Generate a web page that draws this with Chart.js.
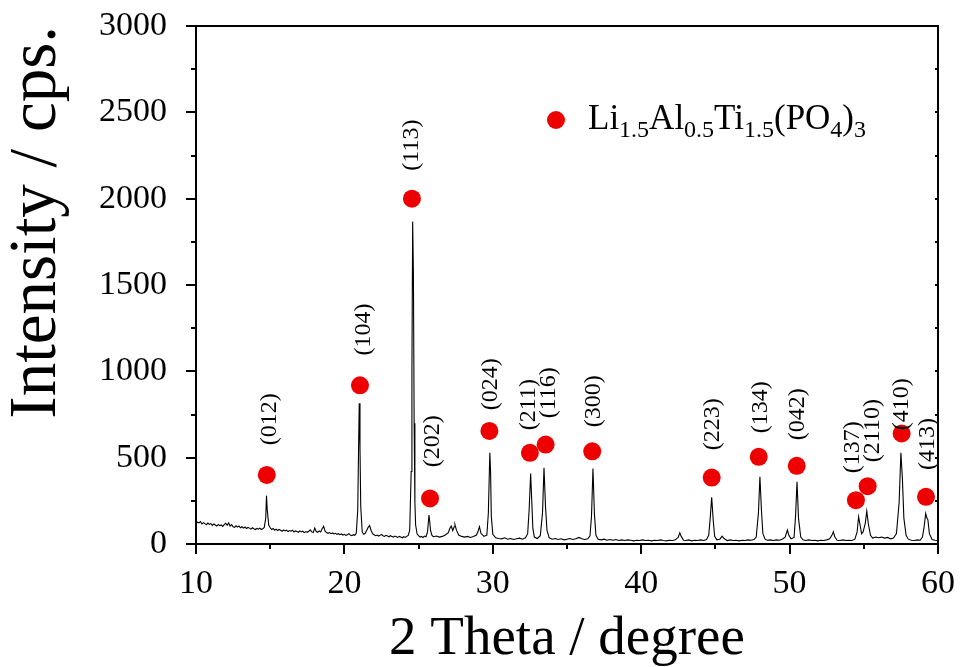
<!DOCTYPE html>
<html>
<head>
<meta charset="utf-8">
<script src="https://cdn.jsdelivr.net/npm/chart.js@4.4.0/dist/chart.umd.min.js"></script>
<style>
    body { margin: 0; background: #fff; }
    #wrap { width: 961px; height: 667px; position: relative; }
</style>
</head>
<body>
<div id="wrap"><canvas id="xrdChart"></canvas></div>
<script>
// measured pattern: [2 theta, intensity]
const pattern = [
    [10.0,118],[10.1,126],[10.2,122],[10.3,130],[10.4,116],[10.5,124],[10.6,118],[10.7,112],[10.8,121],[10.9,114],
    [11.0,118],[11.1,108],[11.2,116],[11.3,110],[11.4,104],[11.5,113],[11.6,106],[11.7,110],[11.8,102],[11.9,112],
    [12.0,120],[12.1,108],[12.2,122],[12.3,104],[12.4,112],[12.5,100],[12.6,96],[12.7,105],[12.8,98],[12.9,104],
    [13.0,94],[13.1,100],[13.2,92],[13.3,98],[13.4,90],[13.5,96],[13.6,92],[13.7,86],[13.8,94],[13.9,88],
    [14.0,84],[14.1,90],[14.2,86],[14.3,92],[14.4,84],[14.5,88],[14.6,96],[14.7,150],[14.75,280],[14.8,200],
    [14.9,110],[15.0,94],[15.1,84],[15.2,90],[15.3,80],[15.4,86],[15.5,78],[15.6,84],[15.7,80],[15.8,74],
    [15.9,82],[16.0,76],[16.1,80],[16.2,72],[16.3,78],[16.4,74],[16.5,80],[16.6,70],[16.7,76],[16.8,72],
    [16.9,68],[17.0,76],[17.1,70],[17.2,74],[17.3,66],[17.4,72],[17.5,68],[17.6,74],[17.7,82],[17.8,70],
    [17.9,66],[18.0,92],[18.1,72],[18.2,68],[18.3,76],[18.4,70],[18.5,88],[18.6,102],[18.7,74],[18.8,66],
    [18.9,62],[19.0,66],[19.1,60],[19.2,64],[19.3,58],[19.4,62],[19.5,56],[19.6,60],[19.7,54],[19.8,58],
    [19.9,52],[20.0,56],[20.1,50],[20.2,54],[20.3,60],[20.4,52],[20.5,48],[20.6,54],[20.7,50],[20.8,62],
    [20.9,200],[20.95,520],[21.0,815],[21.05,560],[21.1,220],[21.2,70],[21.3,56],[21.4,62],[21.5,78],[21.6,96],
    [21.7,106],[21.8,78],[21.9,60],[22.0,54],[22.1,48],[22.2,52],[22.3,46],[22.4,50],[22.5,56],[22.6,48],
    [22.7,44],[22.8,50],[22.9,46],[23.0,42],[23.1,48],[23.2,44],[23.3,40],[23.4,46],[23.5,42],[23.6,38],
    [23.7,44],[23.8,40],[23.9,36],[24.0,42],[24.1,38],[24.2,44],[24.3,50],[24.4,80],[24.5,420],[24.55,1000],
    [24.6,1867],[24.65,1570],[24.7,700],[24.75,240],[24.8,110],[24.9,58],[25.0,48],[25.1,40],[25.2,44],[25.3,38],
    [25.4,46],[25.5,42],[25.6,70],[25.7,168],[25.75,130],[25.8,80],[25.9,50],[26.0,42],[26.2,46],[26.4,40],
    [26.6,44],[26.8,52],[27.0,66],[27.1,90],[27.2,104],[27.3,78],[27.4,100],[27.45,112],[27.55,80],[27.7,52],
    [27.9,44],[28.1,40],[28.3,44],[28.5,38],[28.7,44],[28.9,52],[29.0,72],[29.1,100],[29.2,62],[29.4,44],
    [29.6,52],[29.7,180],[29.8,528],[29.85,420],[29.9,160],[30.0,56],[30.2,36],[30.4,32],[30.6,30],[30.8,36],
    [31.0,28],[31.2,32],[31.4,26],[31.6,30],[31.8,34],[32.0,28],[32.2,36],[32.35,60],[32.45,200],[32.55,408],
    [32.62,260],[32.7,90],[32.8,40],[33.0,32],[33.2,48],[33.35,180],[33.45,441],[33.55,220],[33.65,80],[33.8,36],
    [34.0,28],[34.2,32],[34.4,26],[34.6,30],[34.8,24],[35.0,28],[35.2,32],[35.4,26],[35.6,30],[35.8,38],
    [36.0,30],[36.2,26],[36.4,30],[36.55,48],[36.65,160],[36.75,437],[36.85,170],[36.95,50],[37.1,28],[37.3,24],
    [37.5,28],[37.7,22],[37.9,26],[38.1,22],[38.3,26],[38.5,20],[38.7,24],[38.9,20],[39.1,24],[39.3,22],
    [39.5,18],[39.7,22],[39.9,20],[40.1,24],[40.3,20],[40.5,22],[40.7,18],[40.9,22],[41.1,20],[41.3,24],
    [41.5,20],[41.7,18],[41.9,22],[42.1,20],[42.3,24],[42.5,40],[42.6,65],[42.7,44],[42.85,22],[43.0,20],
    [43.2,24],[43.4,18],[43.6,22],[43.8,20],[44.0,24],[44.2,20],[44.4,26],[44.55,50],[44.65,150],[44.75,270],
    [44.85,140],[44.95,45],[45.1,24],[45.3,28],[45.45,46],[45.6,30],[45.8,20],[46.0,24],[46.2,20],[46.4,22],
    [46.6,18],[46.8,22],[47.0,20],[47.2,24],[47.4,22],[47.6,26],[47.75,40],[47.9,180],[48.0,389],[48.1,200],
    [48.2,60],[48.35,28],[48.5,22],[48.7,24],[48.9,20],[49.1,24],[49.3,22],[49.5,28],[49.7,40],[49.85,81],
    [49.95,50],[50.1,30],[50.3,38],[50.4,160],[50.5,360],[50.6,150],[50.75,40],[50.9,24],[51.1,20],[51.3,24],
    [51.5,20],[51.7,22],[51.9,18],[52.1,22],[52.3,20],[52.5,24],[52.7,30],[52.85,50],[52.95,71],[53.05,40],
    [53.2,22],[53.4,20],[53.6,24],[53.8,20],[54.0,22],[54.2,20],[54.4,28],[54.55,70],[54.65,158],[54.75,110],
    [54.85,60],[54.95,70],[55.1,120],[55.2,191],[55.3,120],[55.45,50],[55.6,34],[55.8,40],[56.0,36],[56.2,40],
    [56.4,34],[56.6,38],[56.8,30],[57.0,34],[57.2,60],[57.38,240],[57.5,528],[57.6,380],[57.7,150],[57.85,50],
    [58.0,28],[58.2,22],[58.4,20],[58.6,24],[58.8,22],[58.95,40],[59.05,90],[59.17,177],[59.25,150],[59.32,140],
    [59.42,60],[59.6,26],[59.8,22],[60.0,20]
];

// red circle markers for LATP reflections
const markX = [14.77, 21.05, 24.55, 25.77, 29.77, 32.5, 33.56, 36.7, 44.75, 47.92, 50.48, 54.47, 55.26, 57.55, 59.19];
const markY = [400, 919, 2000, 264, 655, 528, 576, 537, 385, 505, 453, 254, 335, 640, 273];

// hkl labels (rotated), anchored at the bottom of the text
const hklText = ["(012)", "(104)", "(113)", "(202)", "(024)", "(211)", "(116)", "(300)", "(223)", "(134)", "(042)", "(137)", "(2110)", "(410)", "(413)"];
const hklX = [14.99, 21.32, 24.56, 25.97, 29.85, 32.39, 33.74, 36.82, 44.79, 48.05, 50.52, 54.22, 55.57, 57.55, 59.28];
const hklY = [572, 1092, 2162, 445, 775, 659, 728, 676, 543, 642, 601, 410, 474, 659, 428];

const xTicks = [10, 20, 30, 40, 50, 60];
const yTicks = [0, 500, 1000, 1500, 2000, 2500, 3000];

const SERIF = "'Liberation Serif', 'Times New Roman', serif";
const RED = "#ee0000";

// frame + outward ticks
const axesPlugin = {
    id: "axesPlugin",
    afterDraw(chart) {
        const { ctx, chartArea: a, scales } = chart;
        ctx.save();
        ctx.strokeStyle = "#000";
        ctx.lineWidth = 2;
        ctx.strokeRect(a.left, a.top, a.right - a.left, a.bottom - a.top);
        ctx.beginPath();
        for (let v = 0; v <= 3000; v += 250) {
            const y = Math.round(scales.y.getPixelForValue(v));
            const len = v % 500 === 0 ? 10 : 5;
            ctx.moveTo(a.left - len, y);
            ctx.lineTo(a.left, y);
            ctx.moveTo(a.right, y);
            ctx.lineTo(a.right - 3, y);
        }
        for (let v = 10; v <= 60; v += 5) {
            const x = Math.round(scales.x.getPixelForValue(v));
            const len = v % 10 === 0 ? 10 : 5;
            ctx.moveTo(x, a.bottom);
            ctx.lineTo(x, a.bottom + len);
        }
        ctx.stroke();
        ctx.restore();
    }
};

const labelPlugin = {
    id: "labelPlugin",
    afterDatasetsDraw(chart) {
        const { ctx, chartArea: a, scales } = chart;
        ctx.save();
        ctx.fillStyle = "#000";
        ctx.font = "24px " + SERIF;
        ctx.textAlign = "left";
        ctx.textBaseline = "middle";
        hklText.forEach((t, i) => {
            const x = scales.x.getPixelForValue(hklX[i]);
            const y = scales.y.getPixelForValue(hklY[i]);
            ctx.save();
            ctx.translate(x, y);
            ctx.rotate(-Math.PI / 2);
            ctx.fillText(t, 0, 0);
            ctx.restore();
        });

        // legend
        const cx = a.left + 360;
        const cy = a.top + 94;
        ctx.fillStyle = RED;
        ctx.beginPath();
        ctx.arc(cx, cy, 9, 0, Math.PI * 2);
        ctx.fill();

        const parts = [
            ["Li", 0], ["1.5", 1], ["Al", 0], ["0.5", 1], ["Ti", 0], ["1.5", 1],
            ["(PO", 0], ["4", 1], [")", 0], ["3", 1]
        ];
        let tx = cx + 32;
        const base = cy + 9;
        ctx.fillStyle = "#000";
        ctx.textBaseline = "alphabetic";
        parts.forEach(([s, sub]) => {
            ctx.font = (sub ? "24px " : "35px ") + SERIF;
            ctx.fillText(s, tx, sub ? base + 8 : base);
            tx += ctx.measureText(s).width;
        });
        ctx.restore();
    }
};

new Chart(document.getElementById("xrdChart"), {
    type: "scatter",
    data: {
        datasets: [
            {
                label: "pattern",
                data: pattern.map(p => ({ x: p[0], y: p[1] })),
                showLine: true,
                borderColor: "#000",
                borderWidth: 1.1,
                pointRadius: 0,
                tension: 0
            },
            {
                label: "Li1.5Al0.5Ti1.5(PO4)3",
                data: markX.map((x, i) => ({ x, y: markY[i] })),
                pointRadius: 9,
                pointHoverRadius: 9,
                backgroundColor: RED,
                borderColor: RED,
                borderWidth: 0
            }
        ]
    },
    options: {
        responsive: true,
        maintainAspectRatio: false,
        animation: false,
        layout: { padding: { top: 26, right: 23, left: 0, bottom: 0 } },
        plugins: { legend: { display: false }, tooltip: { enabled: false } },
        scales: {
            x: {
                type: "linear",
                min: 10,
                max: 60,
                afterBuildTicks: s => { s.ticks = xTicks.map(v => ({ value: v })); },
                afterFit: s => { s.height = 123; s.paddingLeft = 0; s.paddingRight = 0; },
                grid: { display: false },
                border: { display: false },
                ticks: { color: "#000", padding: 12, font: { family: SERIF, size: 34 }, callback: v => String(v) },
                title: {
                    display: true,
                    text: "2 Theta / degree",
                    color: "#000",
                    padding: { top: 10, bottom: 0 },
                    font: { family: SERIF, size: 55, lineHeight: 1 }
                }
            },
            y: {
                type: "linear",
                min: 0,
                max: 3000,
                afterBuildTicks: s => { s.ticks = yTicks.map(v => ({ value: v })); },
                afterFit: s => { s.width = 196; s.paddingTop = 0; s.paddingBottom = 0; },
                grid: { display: false },
                border: { display: false },
                ticks: { color: "#000", padding: 21, font: { family: SERIF, size: 34 }, callback: v => String(v) },
                title: {
                    display: true,
                    text: "Intensity / cps.",
                    align: "end",
                    color: "#000",
                    padding: { top: 4, bottom: 0 },
                    font: { family: SERIF, size: 67, lineHeight: 1 }
                }
            }
        }
    },
    plugins: [axesPlugin, labelPlugin]
});
</script>
</body>
</html>
